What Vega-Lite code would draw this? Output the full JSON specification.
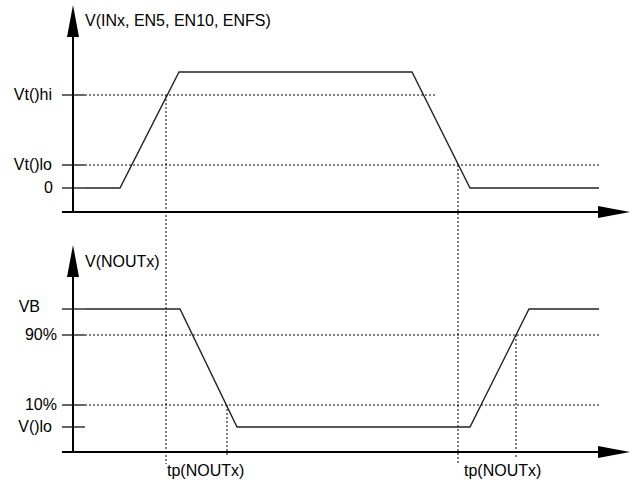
{
  "$schema": "https://vega.github.io/schema/vega-lite/v6.json",
  "width": 632,
  "height": 486,
  "padding": 0,
  "autosize": {"type": "fit", "contains": "padding"},
  "config": {"view": {"stroke": null}, "font": "Liberation Sans"},
  "datasets": {
    "signals": [
      {"panel": "in", "i": 1, "t": 85, "v": 298},
      {"panel": "in", "i": 2, "t": 120, "v": 298},
      {"panel": "in", "i": 3, "t": 179, "v": 414},
      {"panel": "in", "i": 4, "t": 412, "v": 414},
      {"panel": "in", "i": 5, "t": 470, "v": 298},
      {"panel": "in", "i": 6, "t": 599, "v": 298},
      {"panel": "out", "i": 1, "t": 85, "v": 177},
      {"panel": "out", "i": 2, "t": 180, "v": 177},
      {"panel": "out", "i": 3, "t": 237, "v": 59},
      {"panel": "out", "i": 4, "t": 470, "v": 59},
      {"panel": "out", "i": 5, "t": 529, "v": 177},
      {"panel": "out", "i": 6, "t": 599, "v": 177}
    ],
    "hdotted": [
      {"name": "Vt()hi", "t1": 85, "t2": 435, "v": 391},
      {"name": "Vt()lo", "t1": 85, "t2": 599, "v": 321},
      {"name": "90%", "t1": 85, "t2": 599, "v": 151},
      {"name": "10%", "t1": 85, "t2": 599, "v": 81}
    ],
    "vdotted": [
      {"t": 166, "v1": 391, "v2": 22},
      {"t": 458, "v1": 321, "v2": 21},
      {"t": 227, "v1": 81, "v2": 29},
      {"t": 516, "v1": 151, "v2": 29}
    ],
    "ticks": [
      {"t1": 62, "t2": 85, "v": 391},
      {"t1": 62, "t2": 85, "v": 321},
      {"t1": 62, "t2": 85, "v": 298},
      {"t1": 62, "t2": 85, "v": 177},
      {"t1": 62, "t2": 85, "v": 151},
      {"t1": 62, "t2": 85, "v": 81},
      {"t1": 62, "t2": 85, "v": 59}
    ],
    "axes": [
      {"t1": 73, "t2": 73, "v1": 274, "v2": 452},
      {"t1": 62, "t2": 600, "v1": 274, "v2": 274},
      {"t1": 73, "t2": 73, "v1": 34, "v2": 212},
      {"t1": 62, "t2": 600, "v1": 34, "v2": 34}
    ],
    "arrows": [
      {"dir": "up", "t": 73, "v": 465},
      {"dir": "up", "t": 73, "v": 225},
      {"dir": "right", "t": 614, "v": 274},
      {"dir": "right", "t": 614, "v": 34}
    ],
    "levels": [
      {"label": "Vt()hi", "t": 52, "v": 391},
      {"label": "Vt()lo", "t": 52, "v": 321},
      {"label": "0", "t": 53, "v": 298},
      {"label": "VB", "t": 40, "v": 179},
      {"label": "90%", "t": 57, "v": 151},
      {"label": "10%", "t": 57, "v": 81},
      {"label": "V()lo", "t": 52, "v": 59}
    ],
    "titles": [
      {"label": "V(INx, EN5, EN10, ENFS)", "t": 85, "v": 465},
      {"label": "V(NOUTx)", "t": 85, "v": 224},
      {"label": "tp(NOUTx)", "t": 167, "v": 15},
      {"label": "tp(NOUTx)", "t": 464, "v": 15}
    ]
  },
  "encoding": {
    "x": {"type": "quantitative", "scale": {"domain": [0, 632], "nice": false, "zero": false}, "axis": null},
    "y": {"type": "quantitative", "scale": {"domain": [0, 486], "nice": false, "zero": false}, "axis": null}
  },
  "layer": [
    {
      "data": {"name": "hdotted"},
      "mark": {"type": "rule", "color": "black", "strokeWidth": 1, "strokeDash": [2, 2]},
      "encoding": {"x": {"field": "t1"}, "x2": {"field": "t2"}, "y": {"field": "v"}}
    },
    {
      "data": {"name": "vdotted"},
      "mark": {"type": "rule", "color": "black", "strokeWidth": 1, "strokeDash": [2, 2]},
      "encoding": {"x": {"field": "t"}, "y": {"field": "v1"}, "y2": {"field": "v2"}}
    },
    {
      "data": {"name": "ticks"},
      "mark": {"type": "rule", "color": "black", "strokeWidth": 1.2},
      "encoding": {"x": {"field": "t1"}, "x2": {"field": "t2"}, "y": {"field": "v"}}
    },
    {
      "data": {"name": "axes"},
      "mark": {"type": "rule", "color": "black", "strokeWidth": 2},
      "encoding": {"x": {"field": "t1"}, "x2": {"field": "t2"}, "y": {"field": "v1"}, "y2": {"field": "v2"}}
    },
    {
      "data": {"name": "signals"},
      "mark": {"type": "line", "color": "#222", "strokeWidth": 1.4},
      "encoding": {
        "x": {"field": "t"},
        "y": {"field": "v"},
        "detail": {"field": "panel"},
        "order": {"field": "i", "type": "quantitative"}
      }
    },
    {
      "data": {"name": "arrows"},
      "mark": {"type": "point", "filled": true, "color": "black", "opacity": 1, "size": 1024, "strokeWidth": 0},
      "encoding": {
        "x": {"field": "t"},
        "y": {"field": "v"},
        "shape": {
          "field": "dir",
          "type": "nominal",
          "scale": {"domain": ["up", "right"], "range": ["M0,-1L0.375,1L-0.375,1Z", "M1,0L-1,-0.375L-1,0.375Z"]},
          "legend": null
        }
      }
    },
    {
      "data": {"name": "levels"},
      "mark": {"type": "text", "align": "right", "baseline": "middle", "fontSize": 16, "color": "black"},
      "encoding": {"x": {"field": "t"}, "y": {"field": "v"}, "text": {"field": "label"}}
    },
    {
      "data": {"name": "titles"},
      "mark": {"type": "text", "align": "left", "baseline": "middle", "fontSize": 16, "color": "black"},
      "encoding": {"x": {"field": "t"}, "y": {"field": "v"}, "text": {"field": "label"}}
    }
  ]
}
